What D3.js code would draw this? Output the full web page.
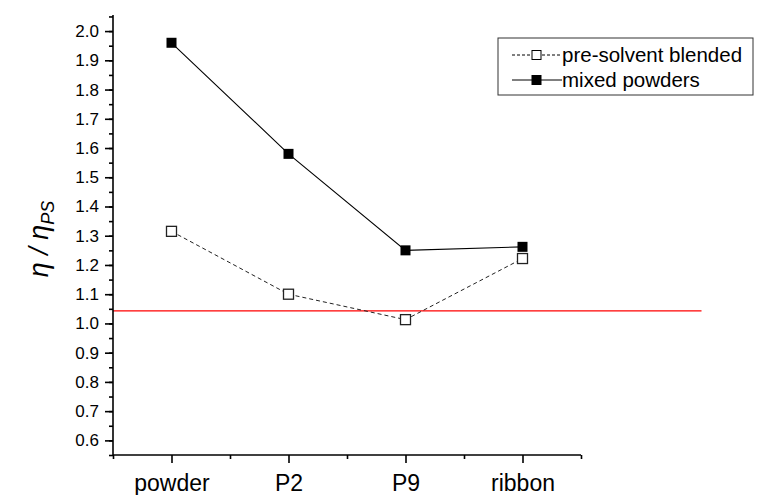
<!DOCTYPE html>
<html>
<head>
<meta charset="utf-8">
<script src="https://cdn.jsdelivr.net/npm/d3@7"></script>
<style>
  body { margin: 0; background: #fff; }
  text { font-family: Arial, "Liberation Sans", sans-serif; }
</style>
</head>
<body>
<script>
// categories and series
const categories = ['powder', 'P2', 'P9', 'ribbon'];
const preSolvent = [1.315, 1.10, 1.013, 1.222];
const mixedPowders = [1.96, 1.58, 1.25, 1.262];
const refLine = 1.043;
const yTicks = [0.6, 0.7, 0.8, 0.9, 1.0, 1.1, 1.2, 1.3, 1.4, 1.5, 1.6, 1.7, 1.8, 1.9, 2.0];

const width = 758, height = 495;
const margin = { top: 15, right: 177, bottom: 40, left: 113 };

const svg = d3.select('body').append('svg')
  .attr('width', width)
  .attr('height', height);

const x = d3.scaleLinear()
  .domain([0.5, categories.length + 0.5])
  .range([margin.left, width - margin.right]);

const y = d3.scaleLinear()
  .domain([0.55, 2.055])
  .range([height - margin.bottom, margin.top]);

// red reference line (runs past the axis end like the original)
svg.append('line')
  .attr('x1', x(0.5)).attr('x2', x(5.53))
  .attr('y1', y(refLine)).attr('y2', y(refLine))
  .attr('stroke', '#ff0000').attr('stroke-width', 1.2);

// y axis
const yAxis = svg.append('g')
  .attr('transform', `translate(${margin.left},0)`);
yAxis.call(d3.axisLeft(y).tickValues(d3.range(0.55, 2.056, 0.05)).tickSize(4).tickFormat(''));
yAxis.call(g => g.selectAll('.domain').remove());
const yMajor = svg.append('g')
  .attr('transform', `translate(${margin.left},0)`)
  .call(d3.axisLeft(y).tickValues(yTicks).tickSize(8).tickPadding(6).tickFormat(d3.format('.1f')));
yMajor.select('.domain').attr('d', `M0,${y(0.55)}V${y(2.055)}`);
svg.selectAll('.tick line, .domain').attr('stroke', '#000').attr('stroke-width', 1.6);
yMajor.selectAll('text').attr('font-size', 17).attr('fill', '#000')
  .attr('font-family', 'Arial, "Liberation Sans", sans-serif');

// x axis
const xAxisY = y(0.55);
const xMinor = svg.append('g')
  .attr('transform', `translate(0,${xAxisY})`)
  .call(d3.axisBottom(x).tickValues([0.5, 1.5, 2.5, 3.5, 4.5]).tickSize(4).tickFormat(''));
xMinor.select('.domain').remove();
const xMajor = svg.append('g')
  .attr('transform', `translate(0,${xAxisY})`)
  .call(d3.axisBottom(x).tickValues([1, 2, 3, 4]).tickSize(8).tickPadding(12)
    .tickFormat(d => categories[d - 1]));
xMajor.select('.domain').attr('d', `M${x(0.5)},0H${x(4.5)}`);
svg.selectAll('.tick line, .domain').attr('stroke', '#000').attr('stroke-width', 1.6);
xMajor.selectAll('text').attr('font-size', 23).attr('fill', '#000')
  .attr('font-family', 'Arial, "Liberation Sans", sans-serif');

// y axis title
svg.append('text')
  .attr('transform', `translate(48,${(y(0.55) + y(2.055)) / 2 + 4}) rotate(-90)`)
  .attr('text-anchor', 'middle')
  .attr('font-size', 27)
  .attr('font-style', 'italic')
  .attr('font-family', '"DejaVu Serif", "Liberation Serif", serif')
  .html('η / η<tspan font-size="18" dy="6" font-family="Arial, Liberation Sans, sans-serif">PS</tspan>');

// lines
const line = vals => d3.line().x((d, i) => x(i + 1)).y(d => y(d))(vals);
svg.append('path').attr('d', line(preSolvent))
  .attr('fill', 'none').attr('stroke', '#222').attr('stroke-width', 1)
  .attr('stroke-dasharray', '4,3');
svg.append('path').attr('d', line(mixedPowders))
  .attr('fill', 'none').attr('stroke', '#000').attr('stroke-width', 1.1);

// markers
const ms = 10;
svg.selectAll('.open').data(preSolvent).enter().append('rect')
  .attr('x', (d, i) => x(i + 1) - ms / 2).attr('y', d => y(d) - ms / 2)
  .attr('width', ms).attr('height', ms)
  .attr('fill', '#fff').attr('stroke', '#222').attr('stroke-width', 1.3);
svg.selectAll('.filled').data(mixedPowders).enter().append('rect')
  .attr('x', (d, i) => x(i + 1) - ms / 2).attr('y', d => y(d) - ms / 2)
  .attr('width', ms).attr('height', ms)
  .attr('fill', '#000');

// legend
const lg = svg.append('g');
lg.append('rect').attr('x', 498).attr('y', 38).attr('width', 255).attr('height', 57)
  .attr('fill', '#fff').attr('stroke', '#333').attr('stroke-width', 1);
const entries = [
  { name: 'pre-solvent blended', dash: '3,2', fill: '#fff', y: 55 },
  { name: 'mixed powders', dash: null, fill: '#000', y: 80 }
];
entries.forEach(e => {
  lg.append('line').attr('x1', 512).attr('x2', 562).attr('y1', e.y).attr('y2', e.y)
    .attr('stroke', '#000').attr('stroke-width', 1)
    .attr('stroke-dasharray', e.dash);
  lg.append('rect').attr('x', 532).attr('y', e.y - 4.5).attr('width', 9).attr('height', 9)
    .attr('fill', e.fill).attr('stroke', '#000').attr('stroke-width', 1);
  lg.append('text').attr('x', 562).attr('y', e.y + 7).attr('font-size', 20.5)
    .attr('fill', '#000').text(e.name);
});
</script>
</body>
</html>
